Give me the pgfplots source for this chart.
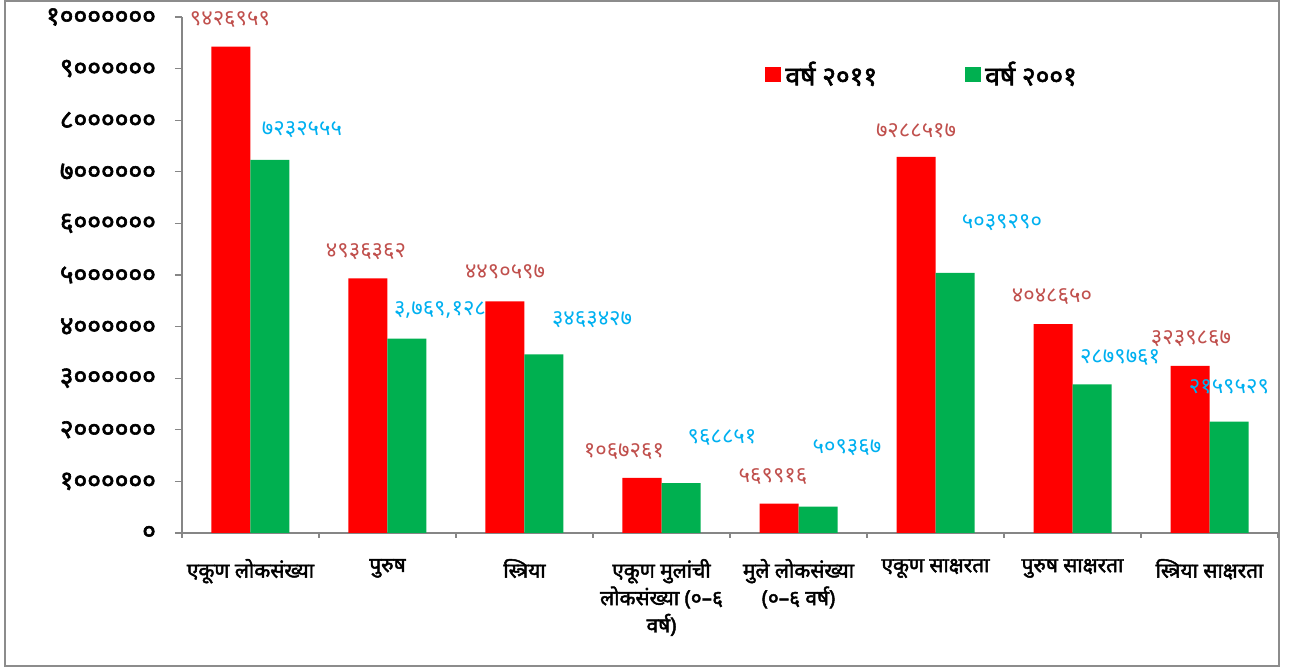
\documentclass[border=0pt]{standalone}
\usepackage{fontspec}
\usepackage{pgfplots}
\pgfplotsset{compat=1.18}
\setmainfont{Noto Sans}[Script=Devanagari, BoldFont={Noto Sans}, BoldFeatures={FakeBold=2.2}]
\definecolor{barred}{HTML}{FF0000}
\definecolor{bargreen}{HTML}{00B050}
\definecolor{lblred}{HTML}{C0504D}
\definecolor{lblblue}{HTML}{00B0F0}
\definecolor{framegray}{HTML}{8C8C8C}
\definecolor{axisgray}{HTML}{868686}

\begin{document}
\begin{tikzpicture}
% 1 px of the reference = 0.5pt; axis box from px (182,533) to (1278,17)
\useasboundingbox (-91pt,-67.5pt) rectangle (560pt,266.5pt);
\draw[framegray, line width=1.25pt] (-88.5pt,-66.5pt) rectangle (548.5pt,266pt);
\begin{axis}[
    at={(0pt,0pt)}, anchor=south west,
    scale only axis, width=548pt, height=258pt,
    ybar=0pt, bar width=19.5pt,
    xmin=-0.5, xmax=7.5, ymin=0, ymax=10000000,
    axis x line*=bottom, axis y line*=left,
    axis line style={draw=axisgray, line width=1pt},
    tick align=outside,
    major tick length=3.5pt, minor tick length=2.5pt,
    xtick={0,1,2,3,4,5,6,7},
    major x tick style={draw=none},
    minor xtick={-0.5,0.5,1.5,2.5,3.5,4.5,5.5,6.5,7.5},
    minor x tick style={draw=axisgray, line width=0.6pt},
    xticklabels={
        {एकूण लोकसंख्या},
        {पुरुष},
        {स्त्रिया},
        {एकूण मुलांची\\लोकसंख्या (०–६\\वर्ष)},
        {मुले लोकसंख्या\\(०–६ वर्ष)},
        {एकूण साक्षरता},
        {पुरुष साक्षरता},
        {स्त्रिया साक्षरता}},
    xticklabel style={font=\bfseries\fontsize{10.4}{13.7}\selectfont, align=center, anchor=north, yshift=-6pt},
    ytick={0,1000000,2000000,3000000,4000000,5000000,6000000,7000000,8000000,9000000,10000000},
    yticklabels={०,१००००००,२००००००,३००००००,४००००००,५००००००,६००००००,७००००००,८००००००,९००००००,१०००००००},
    scaled y ticks=false,
    y tick style={draw=axisgray, line width=0.6pt},
    yticklabel style={font=\bfseries\fontsize{13.2}{15}\selectfont, anchor=east, xshift=-6pt},
    legend style={at={(0.5265,0.8876)}, anchor=west, draw=none, fill=none,
        legend columns=2, font=\bfseries\fontsize{13.2}{15}\selectfont,
        /tikz/every even column/.append style={column sep=42pt},
        nodes={inner xsep=2pt, inner ysep=0pt}},
    legend image code/.code={\fill[#1] (0pt,-3.75pt) rectangle (8pt,3.75pt);},
    clip=false,
]
\addplot[fill=barred, draw=none] coordinates {(0,9426959) (1,4936362) (2,4490597) (3,1067261) (4,569916) (5,7288517) (6,4048650) (7,3239867)};
\addplot[fill=bargreen, draw=none] coordinates {(0,7232555) (1,3769128) (2,3463427) (3,968851) (4,509367) (5,5039290) (6,2879761) (7,2159529)};
\legend{वर्ष २०११, वर्ष २००१}
% data labels, 2011
\begin{scope}[every node/.style={font=\fontsize{11}{12}\selectfont, text=lblred, inner sep=0pt}]
\node at (axis cs:-0.150,9942000) {९४२६९५९};
\node at (axis cs:0.843,5446000) {४९३६३६२};
\node at (axis cs:1.858,5058000) {४४९०५९७};
\node at (axis cs:2.726,1570000) {१०६७२६१};
\node at (axis cs:3.814,1085000) {५६९९१६};
\node at (axis cs:4.858,7791000) {७२८८५१७};
\node at (axis cs:5.850,4574000) {४०४८६५०};
\node at (axis cs:6.865,3760000) {३२३९८६७};
\end{scope}
% data labels, 2001
\begin{scope}[every node/.style={font=\fontsize{11}{12}\selectfont, text=lblblue, inner sep=0pt}]
\node at (axis cs:0.376,7810000) {७२३२५५५};
\node at (axis cs:1.383,4322000) {३,७६९,१२८};
\node at (axis cs:2.493,4128000) {३४६३४२७};
\node at (axis cs:3.442,1841000) {९६८८५१};
\node at (axis cs:4.354,1647000) {५०९३६७};
\node at (axis cs:5.485,6008000) {५०३९२९०};
\node at (axis cs:6.347,3391000) {२८७९७६१};
\node at (axis cs:7.142,2829000) {२१५९५२९};
\end{scope}
\end{axis}
\end{tikzpicture}
\end{document}
